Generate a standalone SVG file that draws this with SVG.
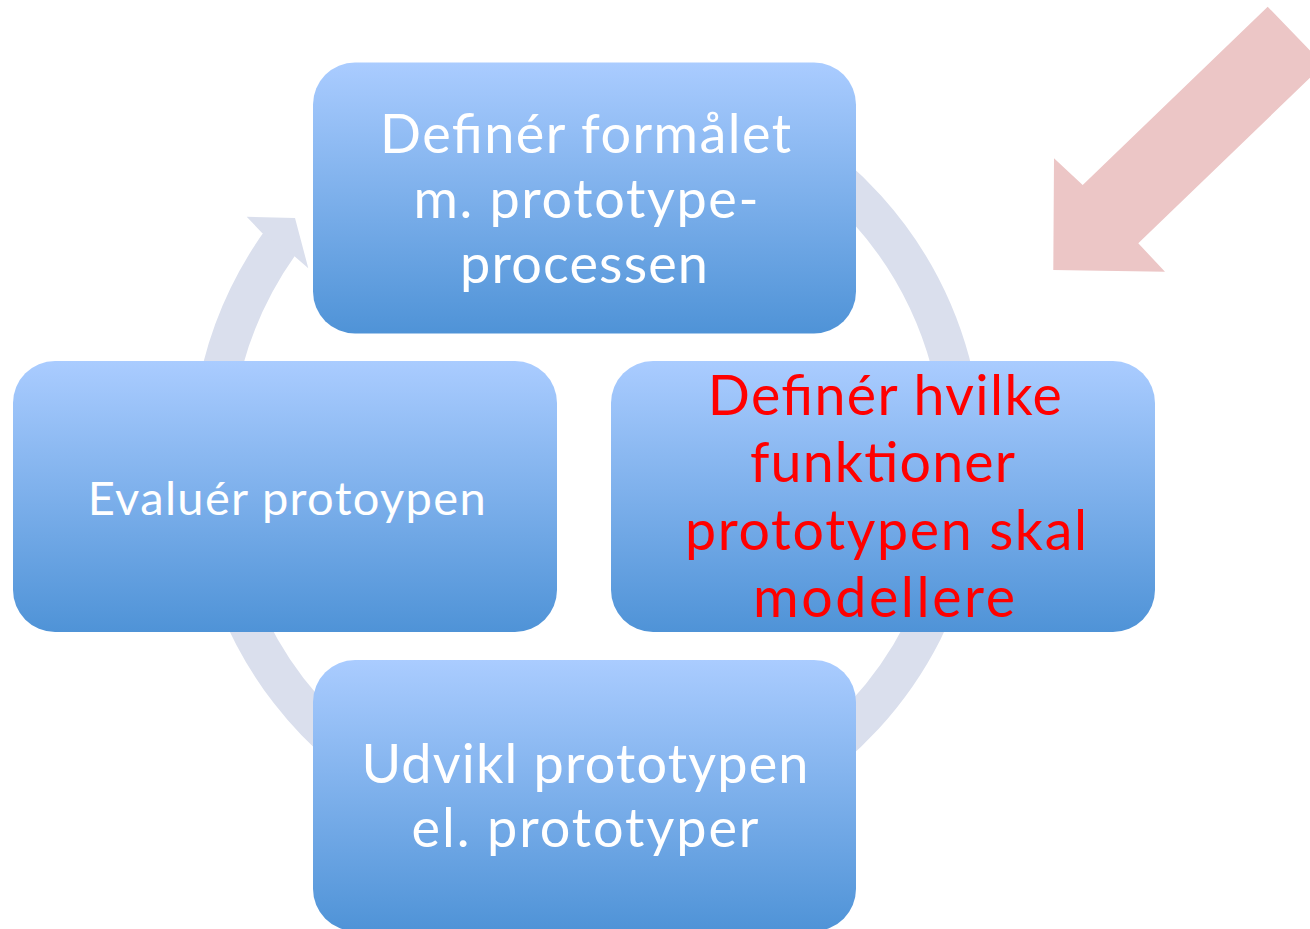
<svg xmlns="http://www.w3.org/2000/svg" width="1310" height="929" viewBox="0 0 1310 929">
  <defs>
    <linearGradient id="boxFill" x1="0" y1="0" x2="0" y2="1">
      <stop offset="0" stop-color="#AACCFF"/>
      <stop offset="1" stop-color="#4F93D7"/>
    </linearGradient>
    <style>
      .box { fill: url(#boxFill); }
      .ring { fill: none; stroke: #DADFED; stroke-width: 39; stroke-linecap: butt; }
      .ringHead { fill: #DADFED; }
      .label { font-family: Lato, "Open Sans", "Liberation Sans", sans-serif; text-anchor: middle; }
      .white { fill: #FFFFFF; }
      .red { fill: #FF0000; }
    </style>
  </defs>

  <rect width="1310" height="929" fill="#FFFFFF"/>

  <!-- circular cycle arrow running behind the steps -->
  <g id="connectors">
    <path class="ring" d="M 342.5 174.6 A 376.5 376.5 0 1 1 280.9 241.7"/>
    <polygon class="ringHead" points="262.1,233.0 246.7,216.7 295,218 308.3,268.3 293.9,255.7"/>
  </g>

  <!-- step: define purpose -->
  <g id="step-purpose">
    <rect class="box" x="313" y="62.5" width="543" height="271" rx="42" ry="42"/>
    <g class="label white" font-size="54">
      <text x="585.5" y="153" textLength="411" lengthAdjust="spacing">Definér formålet</text>
      <text x="586" y="218" textLength="345" lengthAdjust="spacing">m. prototype-</text>
      <text x="584" y="283" textLength="248" lengthAdjust="spacing">processen</text>
    </g>
  </g>

  <!-- step: define functions -->
  <g id="step-functions">
    <rect class="box" x="611" y="361" width="544" height="271" rx="42" ry="42"/>
    <g class="label red" font-size="55.5">
      <text x="884.7" y="415" textLength="354" lengthAdjust="spacing">Definér hvilke</text>
      <text x="882.5" y="482" textLength="265" lengthAdjust="spacing">funktioner</text>
      <text x="886" y="550" textLength="402" lengthAdjust="spacing">prototypen skal</text>
      <text x="884" y="617" textLength="262" lengthAdjust="spacing">modellere</text>
    </g>
  </g>

  <!-- step: develop -->
  <g id="step-develop">
    <rect class="box" x="313" y="660" width="543" height="271" rx="42" ry="42"/>
    <g class="label white" font-size="54">
      <text x="585" y="783" textLength="447" lengthAdjust="spacing">Udvikl prototypen</text>
      <text x="585" y="847" textLength="347" lengthAdjust="spacing">el. prototyper</text>
    </g>
  </g>

  <!-- step: evaluate -->
  <g id="step-evaluate">
    <rect class="box" x="13" y="361" width="544" height="271" rx="42" ry="42"/>
    <text class="label white" font-size="47" x="286.7" y="515" textLength="398" lengthAdjust="spacing">Evaluér protoypen</text>
  </g>

  <!-- pointer arrow in the upper right corner -->
  <g id="pointer">
    <polygon fill="#ECC6C6" points="1267.7,6.7 1323.6,64.7 1138.3,243.3 1165,271.7 1053.3,270 1054,158.3 1082.7,185"/>
  </g>
</svg>
